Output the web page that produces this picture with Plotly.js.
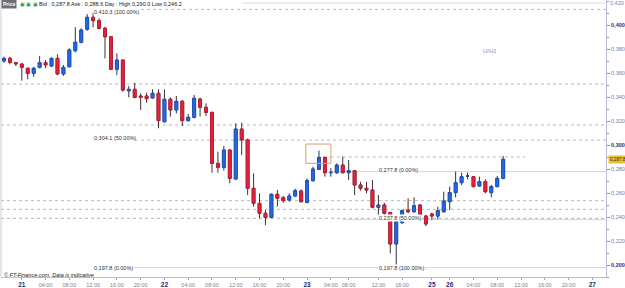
<!DOCTYPE html>
<html><head><meta charset="utf-8">
<script src="https://cdn.plot.ly/plotly-3.0.1.min.js"></script>
<style>html,body{margin:0;padding:0;background:#fff}#c{width:625px;height:288px}</style>
</head><body><div id="c"></div><script>
const openP = [0.3700,0.3722,0.3686,0.3675,0.3639,0.3597,0.3647,0.3686,0.3658,0.3722,
0.3592,0.3652,0.3786,0.3856,0.3964,0.4064,0.4036,0.3972,0.3902,0.3631,
0.3708,0.3452,0.3464,0.3408,0.3408,0.3392,0.3431,0.3194,0.3381,0.3292,
0.3364,0.3203,0.3231,0.3383,0.3314,0.3272,0.2847,0.2814,0.2958,0.2717,
0.3133,0.3042,0.2639,0.2514,0.2431,0.2397,0.2589,0.2561,0.2542,0.2575,
0.2617,0.2522,0.2703,0.2797,0.2897,0.2769,0.2769,0.2833,0.2769,0.2786,
0.2667,0.2639,0.2625,0.2481,0.2500,0.2436,0.2175,0.2353,0.2458,0.2444,
0.2500,0.2408,0.2425,0.2408,0.2444,0.2528,0.2603,0.2686,0.2742,0.2736,
0.2658,0.2694,0.2603,0.2653,0.2722];
const highP = [0.3736,0.3736,0.3694,0.3681,0.3647,0.3652,0.3741,0.3708,0.3731,0.3756,
0.3667,0.3806,0.3981,0.3972,0.4091,0.4103,0.4056,0.3986,0.3908,0.3764,
0.3714,0.3491,0.3519,0.3431,0.3436,0.3464,0.3464,0.3464,0.3397,0.3408,
0.3375,0.3258,0.3417,0.3394,0.3347,0.3278,0.2944,0.2992,0.2964,0.3181,
0.3186,0.3053,0.2764,0.2597,0.2458,0.2597,0.2625,0.2575,0.2597,0.2636,
0.2631,0.2722,0.2819,0.2953,0.2903,0.2806,0.2847,0.2903,0.2875,0.2792,
0.2694,0.2694,0.2708,0.2583,0.2519,0.2444,0.2361,0.2464,0.2556,0.2564,
0.2508,0.2417,0.2436,0.2486,0.2611,0.2653,0.2778,0.2769,0.2769,0.2742,
0.2736,0.2714,0.2667,0.2742,0.2908];
const lowP = [0.3686,0.3672,0.3658,0.3536,0.3547,0.3569,0.3639,0.3639,0.3652,0.3583,
0.3577,0.3647,0.3772,0.3847,0.3952,0.3981,0.3964,0.3722,0.3625,0.3583,
0.3444,0.3397,0.3389,0.3292,0.3353,0.3386,0.3139,0.3186,0.3236,0.3264,
0.3158,0.3194,0.3222,0.3236,0.3242,0.2769,0.2769,0.2786,0.2681,0.2708,
0.2917,0.2583,0.2486,0.2389,0.2333,0.2389,0.2486,0.2519,0.2528,0.2569,
0.2519,0.2514,0.2694,0.2792,0.2736,0.2736,0.2758,0.2764,0.2708,0.2583,
0.2619,0.2597,0.2472,0.2417,0.2375,0.2097,0.1978,0.2342,0.2431,0.2436,
0.2408,0.2325,0.2375,0.2381,0.2436,0.2458,0.2564,0.2667,0.2714,0.2647,
0.2653,0.2597,0.2564,0.2647,0.2714];
const closeP = [0.3722,0.3689,0.3677,0.3647,0.3597,0.3639,0.3686,0.3667,0.3722,0.3592,
0.3647,0.3792,0.3856,0.3958,0.4064,0.4036,0.3972,0.3902,0.3631,0.3708,
0.3458,0.3464,0.3397,0.3397,0.3386,0.3431,0.3203,0.3381,0.3292,0.3364,
0.3203,0.3231,0.3389,0.3314,0.3272,0.2847,0.2814,0.2958,0.2722,0.3133,
0.3042,0.2639,0.2514,0.2431,0.2397,0.2589,0.2556,0.2536,0.2575,0.2619,
0.2528,0.2703,0.2800,0.2897,0.2769,0.2772,0.2833,0.2769,0.2786,0.2667,
0.2639,0.2625,0.2481,0.2500,0.2431,0.2175,0.2361,0.2453,0.2444,0.2494,
0.2417,0.2342,0.2408,0.2453,0.2533,0.2603,0.2686,0.2736,0.2742,0.2653,
0.2694,0.2611,0.2653,0.2722,0.2881];

const xTickIdx  = [3,7,11,15,19,23,27,31,35,39,43,47,51,55,58,63,67,72,75,79,83,87,91,95,99];
const xTickText = ['21','04:00','08:00','12:00','16:00','20:00','22','04:00','08:00','12:00','16:00','20:00',
                   '23','04:00','08:00','12:00','16:00','25','26','04:00','08:00','12:00','16:00','20:00','27'];
const yTickVals = [0.20,0.22,0.24,0.26,0.28,0.30,0.32,0.34,0.36,0.38,0.40];
const yBold = [0.20,0.30,0.40];

const fib1 = [0.4130,0.30405,0.1978];
const fib1Labels = ['0,410.3 (100.00%)','0,304.1 (50.00%)','0,197.8 (0.00%)'];
const fib2 = [0.2778,0.2378,0.1978];
const fib2Labels = ['0,277.8 (0.00%)','0,237.8 (50.00%)','0,197.8 (100.00%)'];
const extraLevels = [0.3508,0.3167,0.2536,0.2464,0.2389];
const dayHigh = 0.2900;
const lastPriceText = '0,287.8';
const lastPrice = 0.2878;
const headerText = 'Bid : 0,287.8 Ask : 0,288.6 Day : High 0,290.0 Low 0,246.2';

const barIdx = openP.map((_, i) => i);
const FONT = 'Liberation Sans, Arial, sans-serif';
const XMAX = 101.3;
const PLOT_H = 277;
const YTOP = 0.42083;
const INC = '#2468e4', DEC = '#e6203e';

const fmt = v => '0,' + Math.round(v * 1000).toString().padStart(3, '0');
const yText = yTickVals.map(v => yBold.some(b => Math.abs(b - v) < 1e-9)
  ? '<b><span style="color:#1c2c78">' + fmt(v) + '</span></b>'
  : '<span style="color:#7080a8">' + fmt(v) + '</span>');
const xText = xTickText.map(t => t.indexOf(':') < 0
  ? '<b><span style="color:#1c2c78;font-size:6.5px">' + t + '</span></b>'
  : '<span style="color:#7a8290">' + t + '</span>');

const shapes = [];
const hline = (y, x0, x1, dash, color) => shapes.push({type:'line', xref:'x', yref:'y', x0:x0, x1:x1, y0:y, y1:y,
  line:{color:color, width:1, dash:dash}, layer:'below'});
extraLevels.forEach(v => hline(v, -0.5, XMAX, 'dot', '#b8b8b8'));
hline(fib1[0], 15, XMAX, 'dot', '#b8b8b8');
hline(fib1[1], 15, XMAX, 'dot', '#b8b8b8');
hline(fib1[2], 15, XMAX, 'solid', '#d4d4d4');
hline(fib2[0], 55, XMAX, 'solid', '#d4d4d4');
hline(fib2[1], 57, XMAX, 'solid', '#d4d4d4');
hline(dayHigh, 55, 87.7, 'dot', '#b8b8b8');
hline(0.4183, 40, XMAX, 'solid', '#dcdcdc');
shapes.push({type:'rect', xref:'x', yref:'y', x0:50.8, x1:55.0, y0:0.2847, y1:0.3008,
  line:{color:'#d8a070', width:1}, fillcolor:'rgba(0,0,0,0)'});
shapes.push({type:'line', xref:'paper', yref:'paper', x0:0, x1:0, y0:0, y1:1, line:{color:'#c8d0dc', width:1}});

const ann = [];
const lab = (x, y, t) => ann.push({x:x, y:y, xref:'x', yref:'y', text:t, showarrow:false, xanchor:'left', yanchor:'middle',
  font:{family:FONT, size:5.5, color:'#303030'}, bgcolor:'#ffffff', borderpad:0});
lab(15, fib1[0] - 0.0020, fib1Labels[0]);
lab(15, fib1[1] + 0.0015, fib1Labels[1]);
lab(15, fib1[2], fib1Labels[2]);
lab(63, fib2[0] + 0.0015, fib2Labels[0]);
lab(63, fib2[1] + 0.0010, fib2Labels[1]);
lab(63, fib2[2], fib2Labels[2]);
const py = p => (PLOT_H - p) / PLOT_H;
ann.push({xref:'paper', yref:'paper', x:36/605, y:py(4), text:headerText, showarrow:false, xanchor:'left', yanchor:'middle',
  font:{family:FONT, size:5.5, color:'#202020'}});
ann.push({xref:'paper', yref:'paper', x:0, y:py(4), text:'<b>Price</b>', showarrow:false, xanchor:'left', yanchor:'middle',
  font:{family:FONT, size:5, color:'#ffffff'}, bgcolor:'#707070', borderpad:1});
ann.push({xref:'paper', yref:'paper', x:17/605, y:py(4), text:'▣ ▣ ▣', showarrow:false, xanchor:'left', yanchor:'middle',
  font:{family:FONT, size:5, color:'#2a8a3a'}});
ann.push({xref:'paper', yref:'paper', x:1/605, y:py(274.5), text:'<i>© FT-Finance.com. Data is indicative</i>', showarrow:false,
  xanchor:'left', yanchor:'middle', font:{family:FONT, size:5.5, color:'#202020'}});
ann.push({xref:'paper', yref:'paper', x:(490-1)/605, y:py(51), text:'U/H1', showarrow:false, xanchor:'center', yanchor:'middle',
  font:{family:FONT, size:6, color:'#7f95b8'}});
ann.push({xref:'paper', yref:'y', x:1.0035, y:lastPrice, text:lastPriceText, showarrow:false, xanchor:'left', yanchor:'middle',
  font:{family:FONT, size:4.6, color:'#202020'}, bgcolor:'#f0c030', borderpad:1});
ann.push({xref:'paper', yref:'paper', x:1.004, y:py(3.5), text:'<span style="color:#7080a8">0,420</span>', showarrow:false,
  xanchor:'left', yanchor:'middle', font:{family:FONT, size:5.5}});

// full candles (dark wicks)
const wickTrace = {
  type:'candlestick', x:barIdx, open:openP, high:highP, low:lowP, close:closeP,
  increasing:{line:{color:'#303040', width:1}, fillcolor:INC},
  decreasing:{line:{color:'#403030', width:1}, fillcolor:DEC},
  whiskerwidth:0, hoverinfo:'skip'
};
// bodies on top, outlined in their own colour
const bodyHigh = openP.map((o, i) => Math.max(o, closeP[i]));
const bodyLow = openP.map((o, i) => Math.min(o, closeP[i]));
const bodyTrace = {
  type:'candlestick', x:barIdx, open:openP, high:bodyHigh, low:bodyLow, close:closeP,
  increasing:{line:{color:'#1d56c8', width:0.7}, fillcolor:INC},
  decreasing:{line:{color:'#c81a34', width:0.7}, fillcolor:DEC},
  whiskerwidth:0, hoverinfo:'skip'
};

const layout = {
  width:625, height:288, margin:{l:1, r:19, t:0, b:288 - PLOT_H},
  paper_bgcolor:'#ffffff', plot_bgcolor:'#ffffff', showlegend:false,
  font:{family:FONT, size:5.5},
  xaxis:{range:[-0.5, XMAX], rangeslider:{visible:false}, showgrid:false, zeroline:false,
    tickmode:'array', tickvals:xTickIdx, ticktext:xText, ticks:'outside', ticklen:2, tickcolor:'#9aa4b8',
    showline:true, linecolor:'#b8c0d0', linewidth:1, tickfont:{family:FONT, size:5.5}},
  yaxis:{side:'right', range:[YTOP - PLOT_H / 1200, YTOP], showgrid:false, zeroline:false,
    tickmode:'array', tickvals:yTickVals, ticktext:yText, ticks:'outside', ticklen:3, tickcolor:'#8a96b0',
    showline:true, linecolor:'#b8c0d0', linewidth:1, tickfont:{family:FONT, size:5.5},
    minor:{tickmode:'linear', tick0:0.19, dtick:0.01, ticks:'outside', ticklen:2, tickcolor:'#8a96b0', showgrid:false}},
  boxmode:'overlay',
  shapes:shapes, annotations:ann
};
Plotly.newPlot('c', [wickTrace, bodyTrace], layout, {staticPlot:true, displayModeBar:false});
</script></body></html>
